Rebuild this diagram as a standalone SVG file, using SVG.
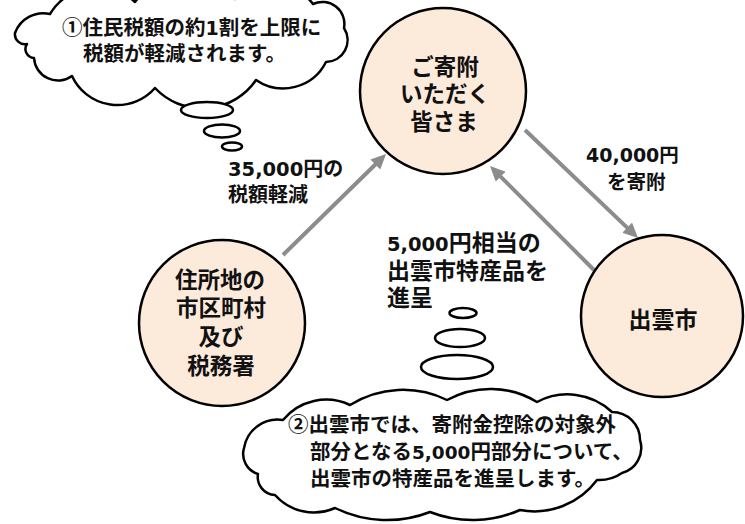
<svg xmlns="http://www.w3.org/2000/svg" width="745" height="524" viewBox="0 0 745 524">
<defs>
<marker id="ah" markerUnits="userSpaceOnUse" markerWidth="16" markerHeight="14" refX="5" refY="7" orient="auto"><path d="M0,0 L15,7 L0,14 z" fill="#8c8c8c"/></marker>
</defs>
<style>
.node{fill:#FCEADB;stroke:#000;stroke-width:2.5}
.cloud{fill:#fff;stroke:#000;stroke-width:2.5;stroke-linejoin:round}
.bub{fill:#fff;stroke:#000;stroke-width:2.5}
.ntxt{font-family:"Noto Sans CJK JP",sans-serif;font-weight:bold;font-size:22.5px;text-anchor:middle;fill:#111}
.ctxt{font-family:"Noto Sans CJK JP",sans-serif;font-weight:bold;font-size:20.5px;fill:#111}
.lbl{font-family:"Noto Sans CJK JP",sans-serif;font-weight:bold;font-size:20px;fill:#111}
.num{font-family:"DejaVu Sans","Noto Sans CJK JP",sans-serif;font-weight:bold}
.conn{stroke:#8c8c8c;stroke-width:4;fill:none;marker-end:url(#ah)}
</style>
<rect width="745" height="524" fill="#fff"/>

<g id="cloud1">
<path class="cloud" d="M15 33 A30 30 0 0 1 50 14 A55 55 0 0 1 135 2 A65 65 0 0 1 235 -1 A52 52 0 0 1 313 4 A22 22 0 0 1 344 28 A22 22 0 0 1 326 62 A48 48 0 0 1 256 80 A65 65 0 0 1 155 88 A50 50 0 0 1 72 76 A24 24 0 0 1 34 58 A9 9 0 0 1 27 44 A10 10 0 0 1 15 33 Z"/>
<ellipse class="bub" cx="207" cy="110" rx="26" ry="8"/>
<ellipse class="bub" cx="222" cy="131" rx="18" ry="6.5"/>
<ellipse class="bub" cx="232" cy="146.5" rx="10" ry="4"/>
<text class="ctxt"><tspan x="62" y="35">①住民税額の約<tspan class="num" style="font-size:19px">1</tspan>割を上限に</tspan><tspan x="83" y="61">税額が軽減されます。</tspan></text>
</g>

<g id="cloud2">
<path class="cloud" d="M244 448 A34 34 0 0 1 283 420 A56 56 0 0 1 350 405 A100 100 0 0 1 447 400 A90 90 0 0 1 537 402 A65 65 0 0 1 612 412 A28 28 0 0 1 640 440 A26 26 0 0 1 622 473 A40 40 0 0 1 597 480 A78 78 0 0 1 520 510 A117 117 0 0 1 430 512 A118 118 0 0 1 335 508 A52 52 0 0 1 275 495 A18 18 0 0 1 258 474 A21 21 0 0 1 244 448 Z"/>
<ellipse class="bub" cx="463" cy="313" rx="13.5" ry="5"/>
<ellipse class="bub" cx="460" cy="338" rx="25" ry="9"/>
<ellipse class="bub" cx="457" cy="367" rx="36" ry="12"/>
<text class="ctxt"><tspan x="288" y="432">②出雲市では、寄附金控除の対象外</tspan><tspan x="310" y="459">部分となる<tspan class="num" style="font-size:18.5px">5,000</tspan>円部分について、</tspan><tspan x="310" y="486">出雲市の特産品を進呈します。</tspan></text>
</g>

<g id="connectors">
<line class="conn" x1="283" y1="255" x2="378.9" y2="161"/>
<line class="conn" x1="525" y1="130" x2="630.8" y2="231.1"/>
<line class="conn" x1="594" y1="270" x2="497.1" y2="173.1"/>
</g>

<g id="donors">
<circle class="node" cx="443" cy="91" r="83"/>
<text class="ntxt"><tspan x="445" y="75">ご寄附</tspan><tspan x="445" y="102">いただく</tspan><tspan x="444" y="130">皆さま</tspan></text>
</g>

<g id="municipality">
<circle class="node" cx="222" cy="323" r="83"/>
<text class="ntxt"><tspan x="220" y="288">住所地の</tspan><tspan x="221" y="316">市区町村</tspan><tspan x="221" y="345">及び</tspan><tspan x="221" y="374">税務署</tspan></text>
</g>

<g id="izumo">
<circle class="node" cx="662" cy="316" r="81"/>
<text class="ntxt" x="663" y="328" style="font-size:23px">出雲市</text>
</g>

<g id="labels">
<text class="lbl"><tspan x="228" y="176"><tspan class="num" style="font-size:19.5px">35,000</tspan>円の</tspan><tspan x="228" y="202">税額軽減</tspan></text>
<text class="lbl" style="font-size:19.5px"><tspan x="586" y="162"><tspan class="num" style="font-size:19px">40,000</tspan>円</tspan><tspan x="607" y="189">を寄附</tspan></text>
<text class="lbl" style="font-size:23px"><tspan x="387" y="251"><tspan class="num" style="font-size:19.5px">5,000</tspan>円相当の</tspan><tspan x="387" y="279">出雲市特産品を</tspan><tspan x="387" y="306">進呈</tspan></text>
</g>
</svg>
